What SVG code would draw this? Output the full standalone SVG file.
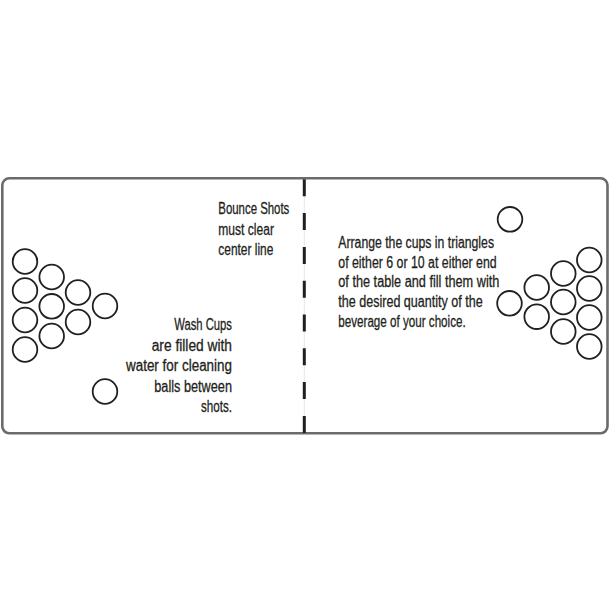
<svg xmlns="http://www.w3.org/2000/svg" width="612" height="612" viewBox="0 0 612 612">
<style>
.cup{fill:#fff;stroke:#231f20;stroke-width:1.8}
.t{font-family:"Liberation Sans Narrow","Liberation Sans",Arial,sans-serif;font-size:16px;fill:#231f20;stroke:#231f20;stroke-width:0.3}
</style>
<defs>
<circle id="c" r="12.3" class="cup"/>
</defs>
<rect x="0" y="0" width="612" height="612" fill="#fff"/>
<g id="table">
<rect x="2.3" y="178.3" width="605.2" height="255" rx="7" ry="7" fill="#fff" stroke="#6b6b6b" stroke-width="2.6"/>
</g>
<g id="center-line">
<line x1="304.3" y1="179" x2="304.3" y2="433" stroke="#e6e6e6" stroke-width="1"/>
<line x1="304.3" y1="179.3" x2="304.3" y2="433" stroke="#231f20" stroke-width="3" stroke-dasharray="17 16.8"/>
</g>
<g id="left-cups">
<use href="#c" x="25" y="261.5"/>
<use href="#c" x="25" y="290.5"/>
<use href="#c" x="25" y="320"/>
<use href="#c" x="25" y="349.5"/>
<use href="#c" x="51.7" y="277"/>
<use href="#c" x="51.7" y="306.3"/>
<use href="#c" x="51.7" y="336"/>
<use href="#c" x="78" y="292.5"/>
<use href="#c" x="78" y="322"/>
<use href="#c" x="105" y="306"/>
</g>
<g id="wash-cup-left">
<use href="#c" x="105" y="391.5"/>
</g>
<g id="wash-cup-right">
<use href="#c" x="510" y="219.3"/>
</g>
<g id="right-cups">
<use href="#c" x="589.3" y="260"/>
<use href="#c" x="589.3" y="288.5"/>
<use href="#c" x="589.3" y="317.5"/>
<use href="#c" x="589.3" y="346.5"/>
<use href="#c" x="563.3" y="273.5"/>
<use href="#c" x="563.3" y="302"/>
<use href="#c" x="563.3" y="331.5"/>
<use href="#c" x="536.7" y="287.5"/>
<use href="#c" x="536.7" y="316.7"/>
<use href="#c" x="509.5" y="303.3"/>
</g>
<g id="bounce-text" class="t">
<text x="218.3" y="214" textLength="71" lengthAdjust="spacingAndGlyphs">Bounce Shots</text>
<text x="218.3" y="234.5" textLength="55.7" lengthAdjust="spacingAndGlyphs">must clear</text>
<text x="218.3" y="255" textLength="55" lengthAdjust="spacingAndGlyphs">center line</text>
</g>
<g id="wash-text" class="t">
<text x="174.3" y="330" textLength="57.7" lengthAdjust="spacingAndGlyphs">Wash Cups</text>
<text x="151.7" y="350.5" textLength="80.3" lengthAdjust="spacingAndGlyphs">are filled with</text>
<text x="126" y="371" textLength="106" lengthAdjust="spacingAndGlyphs">water for cleaning</text>
<text x="154.3" y="391.5" textLength="77.7" lengthAdjust="spacingAndGlyphs">balls between</text>
<text x="201" y="412" textLength="31" lengthAdjust="spacingAndGlyphs">shots.</text>
</g>
<g id="arrange-text" class="t">
<text x="338.3" y="247.5" textLength="155.7" lengthAdjust="spacingAndGlyphs">Arrange the cups in triangles</text>
<text x="338.3" y="267.5" textLength="158.4" lengthAdjust="spacingAndGlyphs">of either 6 or 10 at either end</text>
<text x="338.3" y="287.3" textLength="161" lengthAdjust="spacingAndGlyphs">of the table and fill them with</text>
<text x="338.3" y="307" textLength="144.4" lengthAdjust="spacingAndGlyphs">the desired quantity of the</text>
<text x="338.3" y="327" textLength="127.4" lengthAdjust="spacingAndGlyphs">beverage of your choice.</text>
</g>
</svg>
